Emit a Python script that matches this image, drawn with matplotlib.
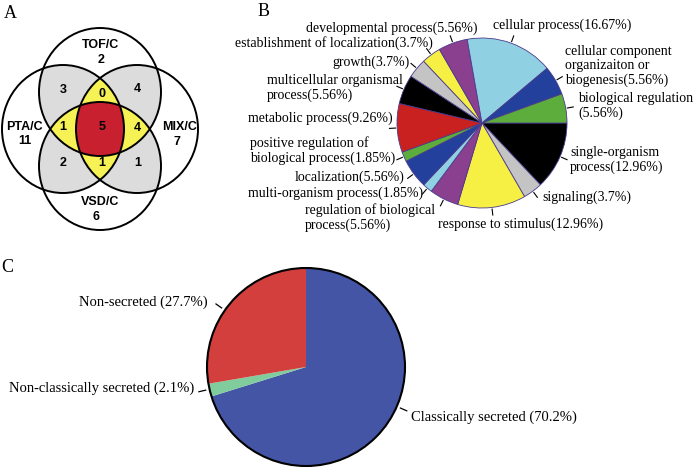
import numpy as np
import matplotlib
matplotlib.use('Agg')
import matplotlib.pyplot as plt
from matplotlib.patches import Ellipse, Circle
from matplotlib.colors import ListedColormap

W, H = 697, 469

# ---- panel A: venn counts
venn_sets = ['TOF/C', 'PTA/C', 'MIX/C', 'VSD/C']
venn_only = [2, 11, 7, 6]
venn_pairs = [3, 4, 2, 1]          # TOF&PTA, TOF&MIX, PTA&VSD, MIX&VSD
venn_triples = [0, 1, 4, 1]        # TOF&PTA&MIX, TOF&PTA&VSD, TOF&MIX&VSD, PTA&MIX&VSD
venn_all = 5

# ---- panel B: GO categories (clockwise from 3 o'clock)
go_names = ['single-organism\nprocess', 'signaling', 'response to stimulus',
            'regulation of biological\nprocess', 'multi-organism process',
            'localization', 'positive regulation of\nbiological process',
            'metabolic process', 'multicellular organismal\nprocess', 'growth',
            'establishment of localization', 'developmental process',
            'cellular process', 'cellular component\norganizaiton or\nbiogenesis',
            'biological regulation\n']
go_pct = [12.96, 3.7, 12.96, 5.56, 1.85, 5.56, 1.85, 9.26, 5.56, 3.7, 3.7,
          5.56, 16.67, 5.56, 5.56]
go_pct_txt = ['12.96%', '3.7%', '12.96%', '5.56%', '1.85%', '5.56%', '1.85%',
              '9.26%', '5.56%', '3.7%', '3.7%', '5.56%', '16.67%', '5.56%', '5.56%']
go_colors = ['#000000', '#c4c4c4', '#f6f044', '#8b3f8f', '#8fd0e2', '#22409c',
             '#5cad3c', '#c8211f', '#000000', '#c4c4c4', '#f6f044', '#8b3f8f',
             '#8fd0e2', '#22409c', '#5cad3c']

# ---- panel C: secretion
sec_names = ['Classically secreted', 'Non-classically secreted', 'Non-secreted']
sec_pct = [70.2, 2.1, 27.7]
sec_colors = ['#4555a6', '#80cc9c', '#d23f3c']

serif = 'Liberation Serif'
sans = 'Liberation Sans'

def Y(y):
    return H - y

fig = plt.figure(figsize=(W / 100, H / 100), dpi=100)
ax = fig.add_axes([0, 0, 1, 1])

# ================= A =================
cx, cy, off, rx, ry = 100, 129, 37, 61, 64
centers = [(cx, cy - off), (cx - off, cy), (cx + off, cy), (cx, cy + off)]
xs = np.linspace(0, 205, 820)
ys = np.linspace(20, 240, 880)
gx, gy = np.meshgrid(xs, ys)
cnt = np.zeros_like(gx)
for (ex, ey) in centers:
    cnt += (((gx - ex) / rx) ** 2 + ((gy - ey) / ry) ** 2 <= 1).astype(float)
cmap = ListedColormap(['#ffffff', '#ffffff', '#dcdcdc', '#f6f155', '#c8202e'])
ax.imshow(cnt, cmap=cmap, vmin=-0.5, vmax=4.5, origin='upper',
          extent=[0, 205, Y(240), Y(20)], interpolation='nearest', zorder=1)
for (ex, ey) in centers:
    ax.add_patch(Ellipse((ex, Y(ey)), 2 * rx, 2 * ry, fill=False,
                         ec='black', lw=1.4, zorder=3))

kw = dict(ha='center', va='center', family=sans, fontsize=9,
          fontweight='bold', zorder=4)
ax.text(101, Y(45), venn_sets[0], **kw)
ax.text(101, Y(60), str(venn_only[0]), **kw)
ax.text(24, Y(127), venn_sets[1], **kw)
ax.text(25, Y(141), str(venn_only[1]), **kw)
ax.text(180, Y(127), venn_sets[2], **kw)
ax.text(177, Y(142), str(venn_only[2]), **kw)
ax.text(100, Y(202), venn_sets[3], **kw)
ax.text(96, Y(217), str(venn_only[3]), **kw)
for (px, py), v in zip([(63, 90), (137, 89), (63, 163), (138, 163)], venn_pairs):
    ax.text(px, Y(py), str(v), **kw)
for (px, py), v in zip([(102, 94), (63, 127), (137, 128), (102, 163)], venn_triples):
    ax.text(px, Y(py), str(v), **kw)
ax.text(102, Y(127), str(venn_all), **kw)

# ================= B =================
bx, by, br = 482, 123, 85
ax.pie(go_pct, colors=go_colors, startangle=0, counterclock=False,
       center=(bx, Y(by)), radius=br, normalize=True,
       wedgeprops=dict(edgecolor='#4b3a8c', linewidth=0.6))
ang = -np.cumsum([0] + go_pct[:-1]) / 100 * 360 - np.array(go_pct) / 100 * 180
for a in ang:
    t = np.deg2rad(a)
    ax.plot([bx + br * 1.02 * np.cos(t), bx + br * 1.09 * np.cos(t)],
            [Y(by) + br * 1.02 * np.sin(t), Y(by) + br * 1.09 * np.sin(t)],
            color='black', lw=0.8)

go_pos = [(570, 160, 'left'), (542, 197, 'left'), (438, 224, 'left'),
          (305, 218, 'left'), (423, 193, 'right'), (405, 177, 'right'),
          (250, 151, 'left'), (393, 118, 'right'), (267, 88, 'left'),
          (410, 62, 'right'), (433, 43, 'right'), (478, 28, 'right'),
          (493, 25, 'left'), (565, 66, 'left'), (578, 106, 'left')]
for name, p, (tx, ty, ha) in zip(go_names, go_pct_txt, go_pos):
    ax.text(tx, Y(ty), name + '(' + p + ')', ha=ha, va='center', family=serif,
            fontsize=10, linespacing=1.15, multialignment='left')

# ================= C =================
px0, py0, pr = 306, 367, 99
ax.pie(sec_pct, colors=sec_colors, startangle=90, counterclock=False,
       center=(px0, Y(py0)), radius=pr, wedgeprops=dict(linewidth=0))
ax.add_patch(Circle((px0, Y(py0)), pr, fill=False, ec='black', lw=1.5))
sec_ticks = [-23.5, 193, 145]
sec_pos = [(411, 417, 'left'), (194, 388, 'right'), (208, 302, 'right')]
for name, p, a, (tx, ty, ha) in zip(sec_names, sec_pct, sec_ticks, sec_pos):
    t = np.deg2rad(a)
    ax.plot([px0 + pr * 1.04 * np.cos(t), px0 + pr * 1.11 * np.cos(t)],
            [Y(py0) + pr * 1.04 * np.sin(t), Y(py0) + pr * 1.11 * np.sin(t)],
            color='black', lw=0.9)
    ax.text(tx, Y(ty), '%s (%.1f%%)' % (name, p), ha=ha, va='center',
            family=serif, fontsize=10.5)

# panel letters
for lab, (lx, ly) in zip(['A', 'B', 'C'], [(10, 13), (264, 11), (7, 267)]):
    ax.text(lx, Y(ly), lab, ha='center', va='center', family=serif, fontsize=13)

ax.set_xlim(0, W)
ax.set_ylim(0, H)
ax.set_aspect('auto')
ax.axis('off')
fig.savefig('out.png', dpi=100)
